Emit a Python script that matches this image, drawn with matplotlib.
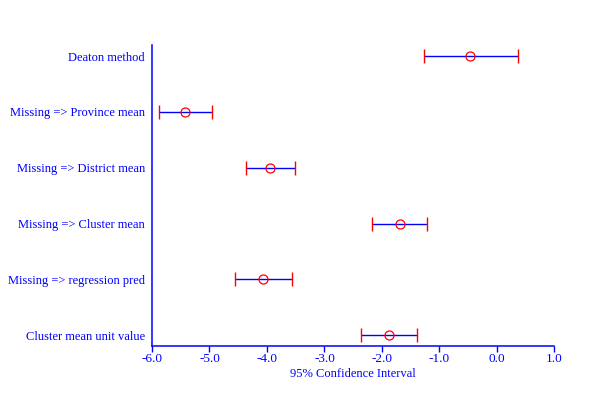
import matplotlib
matplotlib.use("Agg")
import matplotlib.pyplot as plt

labels = ["Deaton method", "Missing => Province mean", "Missing => District mean",
          "Missing => Cluster mean", "Missing => regression pred", "Cluster mean unit value"]
estimate = [-0.46, -5.43, -3.95, -1.69, -4.07, -1.88]
lower = [-1.26, -5.87, -4.37, -2.17, -4.55, -2.37]
upper = [0.36, -4.95, -3.51, -1.21, -3.57, -1.39]
xticks = [-6.0, -5.0, -4.0, -3.0, -2.0, -1.0, 0.0, 1.0]

plt.rcParams["font.family"] = ["Liberation Serif", "DejaVu Serif"]
blue = "#0000ff"
red = "#ff0000"

fig = plt.figure(figsize=(5.97, 3.98), dpi=100)
ax = fig.add_axes([0.2546, 0.1299, 0.674, 0.757])

rows = list(range(1, len(labels) + 1))
ax.hlines(rows, lower, upper, color=blue, lw=1.0)
ax.plot(lower, rows, ls="none", marker="|", ms=10, mew=1.0, color=red)
ax.plot(upper, rows, ls="none", marker="|", ms=10, mew=1.0, color=red)
ax.plot(estimate, rows, ls="none", marker="o", ms=6.5, mfc="none", mec=red, mew=0.9)

ax.set_xlim(-6.0, 1.0)
ax.set_ylim(6.2, 0.8)
ax.set_xticks(xticks)
ax.set_xticklabels([f"{t:.1f}" for t in xticks])
ax.set_yticks(rows)
ax.set_yticklabels(labels)
ax.tick_params(axis="y", length=0, pad=5, labelsize=9, labelcolor=blue)
ax.tick_params(axis="x", length=4, width=1.0, color=blue, pad=1, labelsize=9.5, labelcolor=blue)
for s in ["top", "right"]:
    ax.spines[s].set_visible(False)
for s in ["left", "bottom"]:
    ax.spines[s].set_color(blue)
    ax.spines[s].set_linewidth(1.1)
ax.set_xlabel("95% Confidence Interval", color=blue, fontsize=9, labelpad=2)

fig.savefig("out.png", dpi=100)
